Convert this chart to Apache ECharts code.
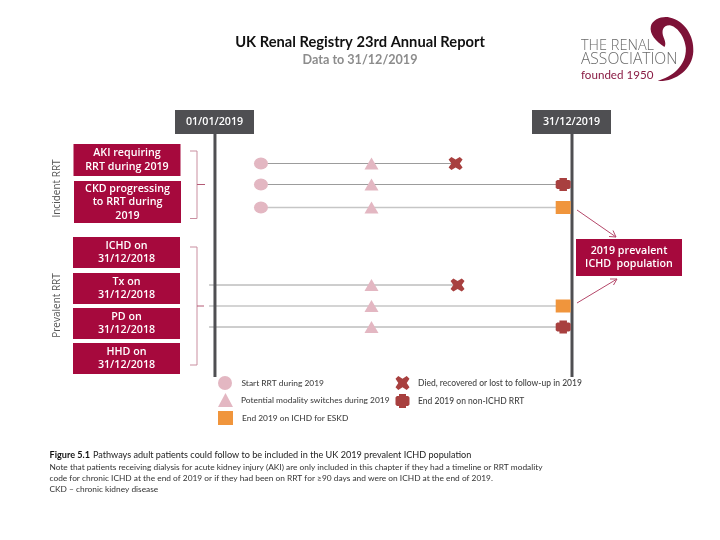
<!DOCTYPE html>
<html lang="en">
  <head>
    <meta charset="UTF-8">
    <title>Figure 5.1</title>
    <style>
      html, body { margin: 0; background: #fff; }
      #chart { width: 720px; height: 540px; }
    </style>
  </head>
  <body>
    <div id="chart"></div>
  </body>
  <script src="https://cdn.jsdelivr.net/npm/echarts@6/dist/echarts.min.js"></script>
  <script>
    // timeline: x = days since 01/01/2019, y = row level on the page
    const rowLevels = [163.5, 184.5, 207.5, 285, 306, 327]
    const lineStarts = [47, 47, 47, -6, -6, -6]
    const lineEnds = [246, 356, 356, 248, 356, 356]
    const switchDays = [160, 160, 160, 160, 160, 160]
    const startRows = [0, 1, 2]
    const diedRows = [0, 3]
    const ichdRows = [2, 4]
    const nonIchdRows = [1, 5]
    const timelineDays = [0, 365]
    const timelineSpan = [134, 377]

    const dateLabels = ['01/01/2019', '31/12/2019']
    const incidentLabels = ['AKI requiring\nRRT during 2019', 'CKD progressing\nto RRT during\n2019']
    const prevalentLabels = ['ICHD on\n31/12/2018', 'Tx on\n31/12/2018', 'PD on\n31/12/2018', 'HHD on\n31/12/2018']
    const resultLabel = '2019 prevalent\nICHD  population'

    const NAME_START = 'Start RRT during 2019'
    const NAME_SWITCH = 'Potential modality switches during 2019'
    const NAME_ICHD = 'End 2019 on ICHD for ESKD'
    const NAME_DIED = 'Died, recovered or lost to follow-up in 2019'
    const NAME_NON = 'End 2019 on non-ICHD RRT'

    const CRIMSON = '#a6093d'
    const PINK = '#e3b7c2'
    const BRICK = '#a8403f'
    const ORANGE = '#f0953c'
    const SLATE = '#4f4f52'
    const FONT = 'Lato, "Open Sans", sans-serif'

    const CROSS = 'path://M4 0 L10 4 L16 0 L20 4 L16 10 L20 16 L16 20 L10 16 L4 20 L0 16 L4 10 L0 4 Z'
    const PLUS = 'path://M5 0 L15 0 L15 3 L18 3 L20 5 L20 15 L18 17 L15 17 L15 20 L5 20 L5 17 L2 17 L0 15 L0 5 L2 3 L5 3 Z'
    const SWOOSH = 'M270 112 C245 95 225 75 230 50 C235 30 265 20 285 25 C330 35 358 80 355 125 C352 180 300 215 250 212 C290 200 335 170 333 115 C330 80 305 50 285 48 C265 48 260 65 268 85 C272 95 275 105 270 112 Z'

    function pick(days, rows) {
      return rows.map(row => [days[row], rowLevels[row]])
    }

    function box(x, y, w, h, text, fill) {
      return [
        { type: 'rect', shape: { x, y, width: w, height: h }, style: { fill } },
        { type: 'text', x: x + w / 2, y: y + h / 2, z: 5, style: {
          text, fill: '#fff', font: '600 10.7px "Open Sans", sans-serif', lineHeight: 13.5,
          textAlign: 'center', textVerticalAlign: 'middle'
        } }
      ]
    }

    function note(x, y, text, fill, font, align) {
      return { type: 'text', x, y, style: { text, fill, font, textAlign: align || 'left', textVerticalAlign: 'middle' } }
    }

    function sideLabel(y, text) {
      return { type: 'text', x: 57, y, rotation: Math.PI / 2, style: { text, fill: '#555', font: '10px "Open Sans", sans-serif', textAlign: 'center', textVerticalAlign: 'middle' } }
    }

    function rule(points, stroke, width) {
      return { type: 'polyline', shape: { points }, style: { stroke, lineWidth: width, fill: null } }
    }

    const graphics = [
      note(360, 42, 'UK Renal Registry 23rd Annual Report', '#111', `700 14.7px ${FONT}`, 'center'),
      note(360, 60, 'Data to 31/12/2019', '#8c8c8c', `700 12.6px ${FONT}`, 'center'),

      // logo text, the swoosh is a custom series below
      note(581, 46, 'THE RENAL', '#6a6a6a', '300 14.5px "Open Sans", sans-serif'),
      note(581, 60, 'ASSOCIATION', '#6a6a6a', '300 15.6px "Open Sans", sans-serif'),
      note(581, 75, 'founded 1950', '#8a1c44', `11.6px ${FONT}`),

      // boxes
      ...box(175, 110, 79, 24, dateLabels[0], SLATE),
      ...box(532, 110, 79, 24, dateLabels[1], SLATE),
      ...box(73.5, 144, 107, 32, incidentLabels[0], CRIMSON),
      ...box(74, 181, 107, 42, incidentLabels[1], CRIMSON),
      ...box(73, 237, 107, 31, prevalentLabels[0], CRIMSON),
      ...box(73, 273, 107, 31, prevalentLabels[1], CRIMSON),
      ...box(73, 308, 107, 31, prevalentLabels[2], CRIMSON),
      ...box(73, 343, 107, 31, prevalentLabels[3], CRIMSON),
      ...box(576, 239, 106, 37, resultLabel, CRIMSON),

      // side labels
      sideLabel(188.5, 'Incident RRT'),
      sideLabel(305.5, 'Prevalent RRT'),

      // brackets
      rule([[190, 151], [197, 151], [197, 218.5], [190, 218.5]], '#c98fa0', 1),
      rule([[197, 184.5], [205, 184.5]], '#b45a75', 1),
      rule([[190, 247], [197, 247], [197, 365], [190, 365]], '#c98fa0', 1),
      rule([[197, 306], [204, 306]], '#b45a75', 1),

      // arrows to the result box
      rule([[577, 210], [616, 237]], '#b5486a', 1),
      rule([[609, 236.5], [616, 237], [613, 230.5]], '#b5486a', 1),
      rule([[577, 303], [617, 279]], '#b5486a', 1),
      rule([[610, 279], [617, 279], [613.5, 285]], '#b5486a', 1),

      // caption
      note(49.5, 455.5, 'Figure 5.1', '#111', `700 9.1px ${FONT}`),
      note(93, 455.5, 'Pathways adult patients could follow to be included in the UK 2019 prevalent ICHD population', '#222', `9.1px ${FONT}`),
      note(49.5, 467, 'Note that patients receiving dialysis for acute kidney injury (AKI) are only included in this chapter if they had a timeline or RRT modality', '#333', `8.35px ${FONT}`),
      note(49.5, 478, 'code for chronic ICHD at the end of 2019 or if they had been on RRT for ≥90 days and were on ICHD at the end of 2019.', '#333', `8.35px ${FONT}`),
      note(49.5, 489, 'CKD – chronic kidney disease', '#333', `8.35px ${FONT}`)
    ]

    const pathSeries = rowLevels.map((level, i) => ({
      type: 'line',
      silent: true,
      symbol: 'none',
      z: 1,
      lineStyle: ichdRows.includes(i) ? { color: '#c6c6c6', width: 1.6 } : { color: '#9c9c9c', width: 1 },
      data: [[lineStarts[i], level], [lineEnds[i], level]]
    }))

    const timelineSeries = timelineDays.map(day => ({
      type: 'line',
      silent: true,
      symbol: 'none',
      z: 2,
      lineStyle: { color: SLATE, width: 3 },
      data: timelineSpan.map(level => [day, level])
    }))

    function marks(name, data, symbol, symbolSize, color) {
      return { type: 'scatter', name, data, symbol, symbolSize, itemStyle: { color, opacity: 1 }, z: 3, silent: true }
    }

    function legendItem(name, left, top, fontSize, gap) {
      return {
        data: [name], left, top, padding: 0, itemWidth: 15, itemHeight: 14, itemGap: 0,
        selectedMode: false,
        textStyle: { color: '#444', fontSize, fontFamily: FONT, fontWeight: 500, padding: [0, 0, 0, gap] }
      }
    }

    const logoSeries = {
      type: 'custom',
      coordinateSystem: 'none',
      silent: true,
      data: [0],
      renderItem: () => ({
        type: 'path',
        shape: { pathData: SWOOSH, x: 650, y: 17, width: 44, height: 64 },
        style: { fill: '#7d1237' }
      })
    }

    const option = {
      animation: false,
      backgroundColor: '#fff',
      grid: { left: 209.1, width: 362.9, top: 0, height: 540 },
      xAxis: { type: 'value', min: -6, max: 365, show: false },
      yAxis: { type: 'value', min: 0, max: 540, inverse: true, show: false },
      legend: [
        legendItem(NAME_START, 218, 376, 8.4, 4),
        legendItem(NAME_SWITCH, 218, 393, 8.4, 3),
        legendItem(NAME_ICHD, 218, 411, 8.4, 4),
        legendItem(NAME_DIED, 395.5, 376, 8.5, 3),
        legendItem(NAME_NON, 395.5, 394, 8.5, 3)
      ],
      graphic: graphics,
      series: [
        ...pathSeries,
        ...timelineSeries,
        marks(NAME_START, pick(lineStarts, startRows), 'circle', [14, 12], PINK),
        marks(NAME_SWITCH, pick(switchDays, [0, 1, 2, 3, 4, 5]), 'triangle', [14, 12], PINK),
        marks(NAME_ICHD, pick(lineEnds, ichdRows), 'rect', [15, 13], ORANGE),
        marks(NAME_DIED, pick(lineEnds, diedRows), CROSS, [14, 13], BRICK),
        marks(NAME_NON, pick(lineEnds, nonIchdRows), PLUS, [15, 13], BRICK),
        logoSeries
      ]
    }

    echarts.init(document.getElementById('chart')).setOption(option)
  </script>
</html>
